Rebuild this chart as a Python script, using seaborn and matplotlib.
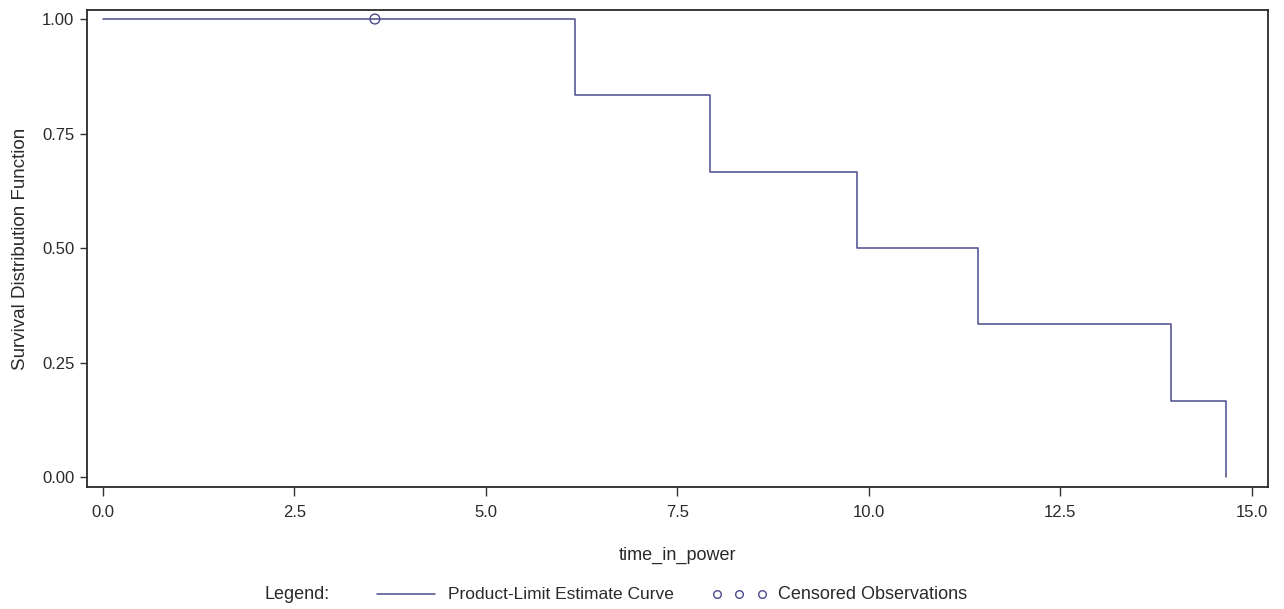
import matplotlib
matplotlib.use("Agg")
import matplotlib.pyplot as plt
from matplotlib.lines import Line2D
import seaborn as sns
import pandas as pd

# Data
event_times = [0.0, 6.16, 7.92, 9.84, 11.42, 13.94, 14.66]
survival = [1.0, 0.8333, 0.6667, 0.5, 0.3333, 0.1667, 0.0]
censor_times = [3.55]
censor_surv = [1.0]
x_ticks = [0.0, 2.5, 5.0, 7.5, 10.0, 12.5, 15.0]
y_ticks = [0.0, 0.25, 0.5, 0.75, 1.0]

sns.set_theme(style="ticks")
plt.rcParams['font.family'] = ['Liberation Sans', 'DejaVu Sans']

color = '#4a4a8c'
tcol = '#2a2a2a'

W, H = 1284, 609
fig = plt.figure(figsize=(W / 100, H / 100), dpi=100)
ax = fig.add_axes([87 / W, 1 - 487 / H, (1268 - 87) / W, (487 - 10) / H])

df = pd.DataFrame({'time_in_power': event_times, 'surv': survival})
sns.lineplot(data=df, x='time_in_power', y='surv', drawstyle='steps-post',
             color=color, linewidth=1.1, ax=ax, estimator=None)
cdf = pd.DataFrame({'t': censor_times, 's': censor_surv})
sns.scatterplot(data=cdf, x='t', y='s', marker='o', s=50, facecolor='none',
                edgecolor=color, linewidth=1.0, ax=ax, zorder=3)

ax.set_xlim(-0.209, 15.21)
ax.set_ylim(-0.0218, 1.0197)
ax.set_xticks(x_ticks)
ax.set_xticklabels([f"{v:.1f}" for v in x_ticks])
ax.set_yticks(y_ticks)
ax.set_yticklabels([f"{v:.2f}" for v in y_ticks])
ax.tick_params(axis='x', direction='out', length=6.5, width=1, colors='#333333',
               labelsize=12, labelcolor=tcol, pad=6.5)
ax.tick_params(axis='y', direction='out', length=5, width=1, colors='#333333',
               labelsize=12, labelcolor=tcol, pad=4)
for sp in ax.spines.values():
    sp.set_visible(True)
    sp.set_linewidth(1.3)
    sp.set_color('#2a2a2a')

ax.set_xlabel('time_in_power', fontsize=13, color=tcol, va='baseline')
ax.xaxis.set_label_coords(0.5, (487 - 560) / 477)
ax.set_ylabel('Survival Distribution Function', fontsize=13.5, color=tcol)
ax.yaxis.set_label_coords((29 - 87) / 1181, 0.5)

# Legend row
base = 1 - 599 / H
mid = 1 - 594 / H
fig.text(265 / W, base, 'Legend:', fontsize=13, va='baseline', ha='left', color=tcol)
fig.add_artist(Line2D([377 / W, 435 / W], [mid, mid], color=color, linewidth=1.1,
                      transform=fig.transFigure))
fig.text(448 / W, base, 'Product-Limit Estimate Curve', fontsize=12.5, va='baseline',
         ha='left', color=tcol)
for cx in [717, 739, 762]:
    fig.add_artist(Line2D([cx / W], [mid], marker='o', markersize=5.5, markerfacecolor='none',
                          markeredgecolor=color, markeredgewidth=1.0, linestyle='none',
                          transform=fig.transFigure))
fig.text(778 / W, base, 'Censored Observations', fontsize=13, va='baseline',
         ha='left', color=tcol)

fig.savefig('out.png', dpi=100, facecolor='white')
